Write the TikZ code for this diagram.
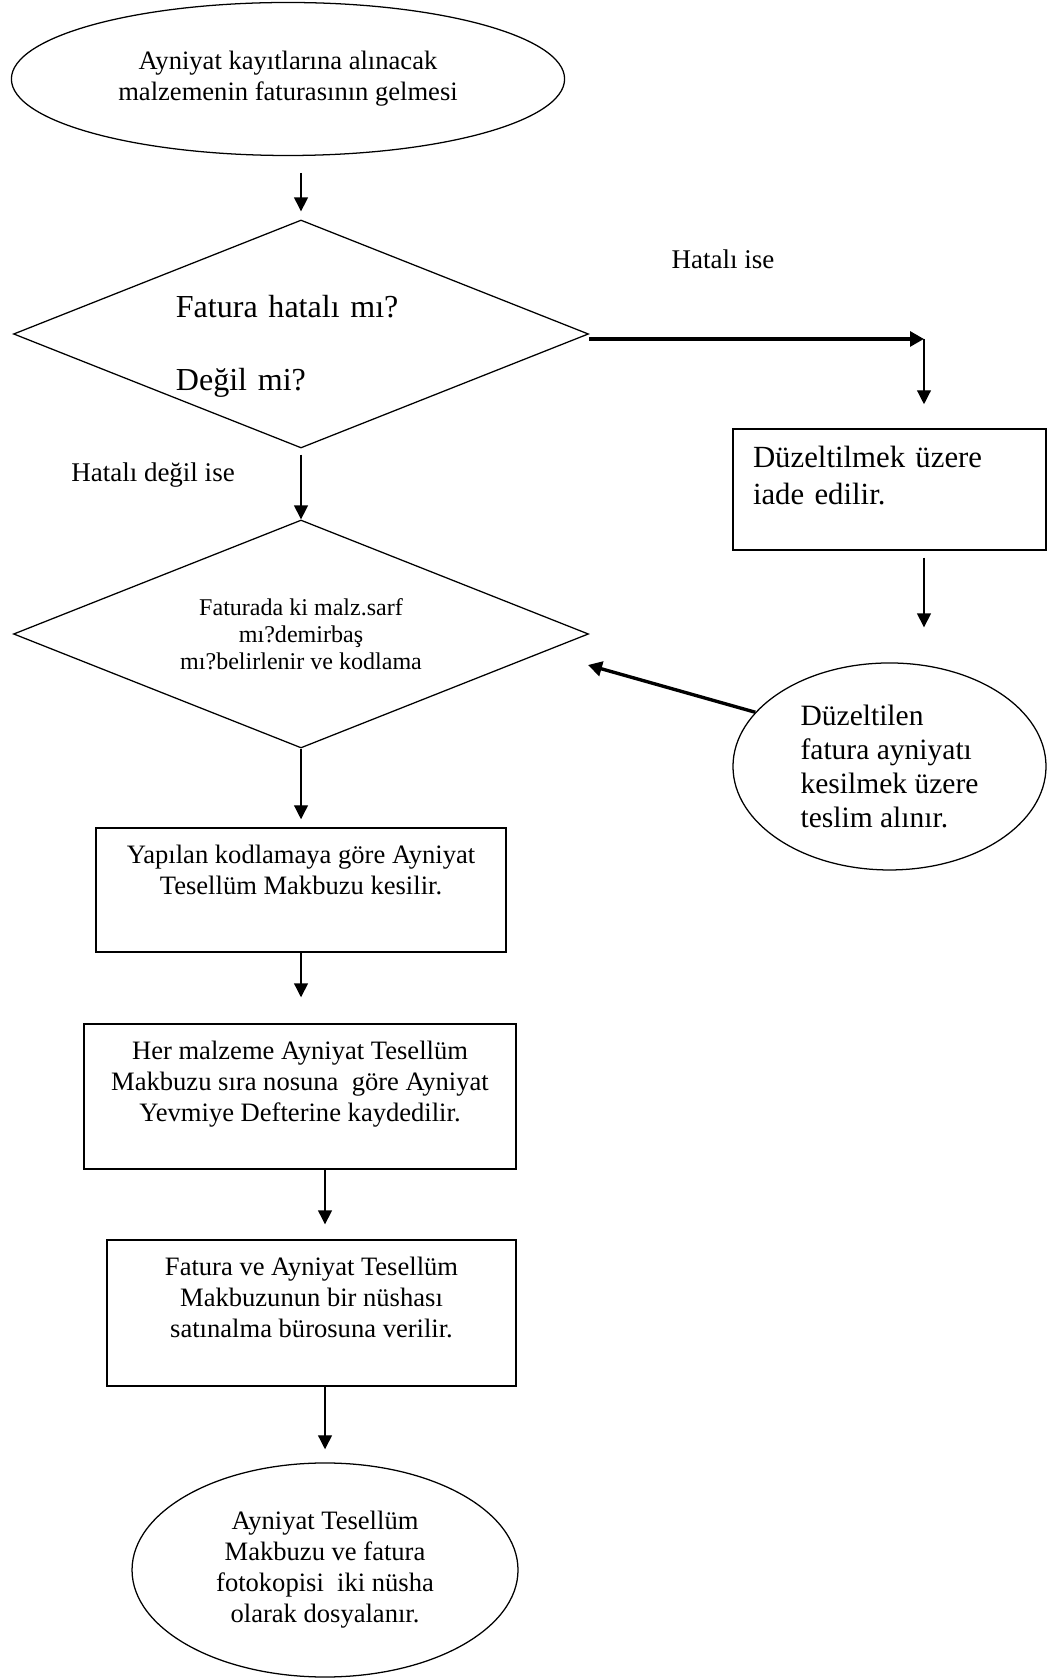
\documentclass[tikz,border=0pt]{standalone}
\usepackage{fontspec}
\setmainfont{Liberation Serif}
\usepackage{tikz}
\usetikzlibrary{arrows.meta}
\usetikzlibrary{shapes.geometric}

\begin{document}
\begin{tikzpicture}[
    ok/.style={-{Triangle[length=6.6pt,width=6.6pt]}, line width=0.6pt},
    kalinok/.style={-{Triangle[length=6.6pt,width=7pt]}, line width=1.6pt},
    kutu/.style={draw, rectangle, line width=0.7pt, inner sep=0pt, align=center, font=\fontsize{12.6}{14.7}\selectfont},
    karar/.style={draw, diamond, aspect=2.52, line width=0.6pt, inner sep=0pt, minimum width=9.583cm, minimum height=3.8cm},
    elips/.style={draw, ellipse, line width=0.6pt, inner sep=0pt, align=center, font=\fontsize{12.6}{14.7}\selectfont},
    etiket/.style={font=\fontsize{12.8}{15}\selectfont}
]
    \useasboundingbox (0,0) rectangle (17.467,27.967);

    % Başlangıç
    \node[elips, minimum width=9.22cm, minimum height=2.55cm] (basla) at (4.80,26.65) {Ayniyat kayıtlarına alınacak\\ malzemenin faturasının gelmesi};

    % Fatura hatalı mı?
    \node[karar, align=left, text width=4.17cm, font=\fontsize{15.2}{18}\selectfont] (hata) at (5.017,22.40) {\mbox{}\\[4pt]Fatura hatalı mı?\\[16.6pt] Değil mi?};
    \node[etiket] (hataliise) at (12.05,23.65) {Hatalı ise};
    \node[etiket] (hatasiz) at (2.55,20.05) {Hatalı değil ise};

    % Hatalı ise geri dönüş
    \node[kutu, align=left, minimum width=5.217cm, minimum height=2.017cm, text width=4.55cm, font=\fontsize{14.6}{17.5}\selectfont] (duzelt) at (14.825,19.808) {Düzeltilmek üzere\\ iade edilir.\\[-4pt]\mbox{}};
    \node[elips, align=left, minimum width=5.217cm, minimum height=3.45cm, font=\fontsize{14}{16.1}\selectfont] (teslim) at (14.825,15.192) {Düzeltilen\\ fatura ayniyatı\\ kesilmek üzere\\ teslim alınır.};

    % Kodlama
    \node[karar, align=center, font=\fontsize{11.4}{12.8}\selectfont] (kod) at (5.017,17.40) {Faturada ki malz.sarf\\ mı?demirbaş\\ mı?belirlenir ve kodlama};

    % Makbuz ve defter
    \node[kutu, minimum width=6.833cm, minimum height=2.067cm] (makbuz) at (5.017,13.133) {Yapılan kodlamaya göre Ayniyat\\ Tesellüm Makbuzu kesilir.\\ \strut};
    \node[kutu, minimum width=7.2cm, minimum height=2.417cm] (defter) at (5.0,9.692) {Her malzeme Ayniyat Tesellüm\\ Makbuzu sıra nosuna\ \ göre Ayniyat\\ Yevmiye Defterine kaydedilir.\\ \mbox{}};
    \node[kutu, minimum width=6.817cm, minimum height=2.433cm] (buro) at (5.192,6.083) {Fatura ve Ayniyat Tesellüm\\ Makbuzunun bir nüshası\\ satınalma bürosuna verilir.\\ \mbox{}};

    % Son
    \node[elips, minimum width=6.433cm, minimum height=3.567cm] (dosya) at (5.417,1.80) {Ayniyat Tesellüm\\ Makbuzu ve fatura\\ fotokopisi\ \ iki nüsha\\ olarak dosyalanır.};

    \coordinate (don) at (15.40,22.317);
    \coordinate (geri) at (9.80,16.883);

    % Oklar
    \draw[ok, shorten <=8pt, shorten >=3.8pt] (hata.north |- basla.south) -- (hata.north);
    \draw[kalinok] (hata.east |- don) -- (don);
    \draw[ok, shorten >=11.4pt] (don) -- (don |- duzelt.north);
    \draw[ok, shorten <=3.3pt, shorten >=16.6pt] (don |- duzelt.south) -- (don |- teslim.north);
    \draw[kalinok] (teslim.158) -- (geri);
    \draw[ok, shorten <=2.8pt] (hata.south) -- (kod.north);
    \draw[ok, shorten >=3.8pt] (kod.south) -- (makbuz.north);
    \draw[ok, shorten >=12.3pt] (makbuz.south) -- (makbuz.south |- defter.north);
    \draw[ok, shorten >=7.1pt] (dosya.north |- defter.south) -- (dosya.north |- buro.north);
    \draw[ok, shorten >=6.2pt] (dosya.north |- buro.south) -- (dosya.north);
\end{tikzpicture}
\end{document}
